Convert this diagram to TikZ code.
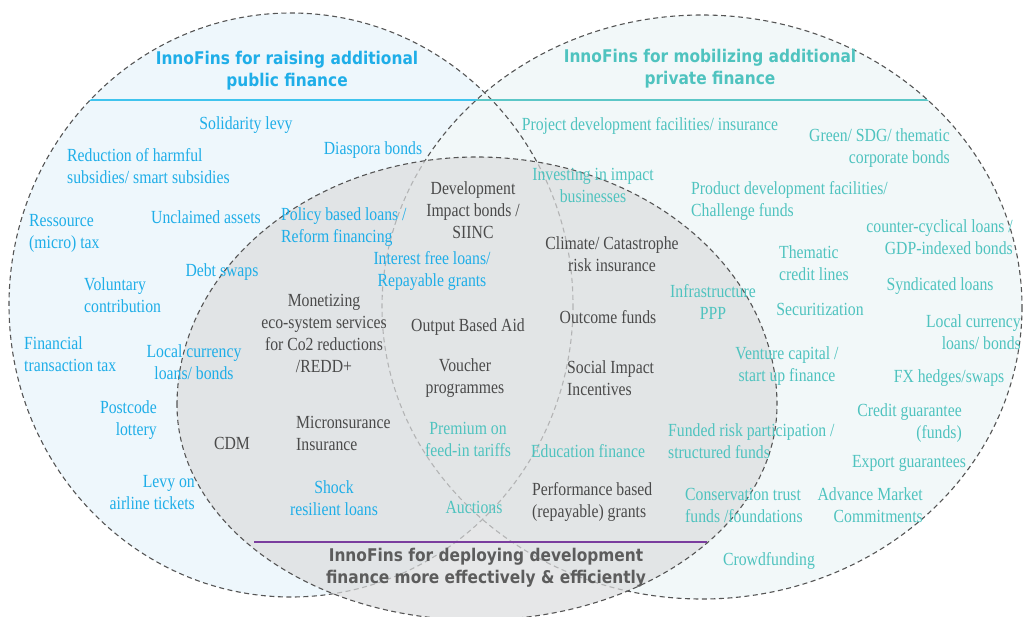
\documentclass[tikz,border=0pt]{standalone}
\usepackage{fontspec}
\setmainfont{Liberation Serif}[FakeStretch=0.85]
\newfontfamily\headfont{DejaVu Sans}[FakeStretch=0.88]
\usepackage{tikz}
\usetikzlibrary{positioning}

\definecolor{pubblue}{HTML}{1FAEE8}
\definecolor{publine}{HTML}{3FC4EE}
\definecolor{pubfill}{HTML}{EEF7FC}
\definecolor{privteal}{HTML}{4FC3BF}
\definecolor{privline}{HTML}{5CC7C7}
\definecolor{privfill}{HTML}{F2F8F9}
\definecolor{devgray}{HTML}{4A4A4A}
\definecolor{devfill}{HTML}{DCDDDE}
\definecolor{devpurple}{HTML}{7A3D9E}
\definecolor{ringgray}{HTML}{555555}

\tikzstyle{item}=[inner sep=0pt, font=\fontsize{18.5}{22}\selectfont]
\tikzstyle{pub}=[item, text=pubblue]
\tikzstyle{priv}=[item, text=privteal]
\tikzstyle{dev}=[item, text=devgray]
\tikzstyle{heading}=[inner sep=0pt, align=center, font=\headfont\bfseries\fontsize{17.5}{22}\selectfont]
\tikzstyle{ring}=[draw=ringgray, line width=1.1pt, dash pattern=on 5pt off 3.5pt]

\begin{document}
\begin{tikzpicture}[x=1pt, y=-1pt]
    \def\pubx{291};
    \def\puby{305};
    \def\privx{702};
    \def\privy{307};
    \def\devx{477};
    \def\devy{405};
    \def\devshape{(\devx-300,\devy) arc[start angle=180, end angle=360, x radius=300, y radius=248]
      arc[start angle=0, end angle=180, x radius=300, y radius=215] -- cycle};

    \useasboundingbox (0,0) rectangle (1025,616);

    % 公的資金と民間資金の円
    \fill[pubfill] (\pubx,\puby) ellipse [x radius=282, y radius=292];
    \fill[privfill] (\privx,\privy) ellipse [x radius=320, y radius=292];
    \draw[ring] (\pubx,\puby) ellipse [x radius=282, y radius=292];
    \draw[ring] (\privx,\privy) ellipse [x radius=320, y radius=292];

    % 見出しの下線
    \begin{scope}
      \clip (\pubx,\puby) ellipse [x radius=282, y radius=292];
      \draw[publine, line width=1.6pt] (0,100) -- (1025,100);
    \end{scope}
    \begin{scope}
      \clip (\privx,\privy) ellipse [x radius=320, y radius=292];
      \draw[privline, line width=1.6pt] (0,100) -- (1025,100);
    \end{scope}

    % 開発資金の領域
    \fill[devfill, fill opacity=0.7] \devshape;
    \draw[ring] \devshape;
    \draw[devpurple, line width=1.6pt] (254,542) -- (707,542);

    % 見出し
    \node[heading, text=pubblue] (pubhead) at (287,71) {InnoFins for raising additional\\public finance};
    \node[heading, text=privteal] (privhead) at (710,69) {InnoFins for mobilizing additional\\private finance};
    \node[heading, text=devgray!90] (devhead) at (486,568) {InnoFins for deploying development\\finance more effectively \& efficiently};

    % 公的資金
    \node[pub] (solidarity) at (246,125) {Solidarity levy};
    \node[pub, align=left, anchor=west] (harmful) at (67,166) {Reduction of harmful\\subsidies/ smart subsidies};
    \node[pub] (diaspora) at (373,150) {Diaspora bonds};
    \node[pub, align=left, anchor=west] (ressource) at (29,233) {Ressource\\(micro) tax};
    \node[pub] (unclaimed) at (206,217) {Unclaimed assets};
    \node[pub] (debtswaps) at (222,272) {Debt swaps};
    \node[pub, align=left, anchor=west] (voluntary) at (84,295) {Voluntary\\contribution};
    \node[pub, align=left, anchor=west] (fintax) at (24,354) {Financial\\transaction tax};
    \node[pub, align=center] (publocal) at (194,362) {Local currency\\loans/ bonds};
    \node[pub, align=right, anchor=east] (postcode) at (157,420) {Postcode\\lottery};
    \node[pub, align=right, anchor=east] (airline) at (195,493) {Levy on\\airline tickets};
    \node[pub, align=left, anchor=west] (policy) at (281,227) {Policy based loans /\\Reform financing};
    \node[pub, align=center] (interest) at (432,271) {Interest free loans/\\Repayable grants};
    \node[pub, align=center] (shock) at (334,498) {Shock\\resilient loans};

    % 開発資金
    \node[dev, align=center] (impactbonds) at (473,210) {Development\\Impact bonds /\\SIINC};
    \node[dev, align=center] (climate) at (612,254) {Climate/ Catastrophe\\risk insurance};
    \node[dev, align=center] (monetizing) at (324,333) {Monetizing\\eco-system services\\for Co2 reductions\\/REDD+};
    \node[dev] (outputaid) at (468,327) {Output Based Aid};
    \node[dev] (outcome) at (608,317) {Outcome funds};
    \node[dev, align=center] (voucher) at (465,378) {Voucher\\programmes};
    \node[dev, align=left, anchor=west] (social) at (567,378) {Social Impact\\Incentives};
    \node[dev, align=left, anchor=west] (microins) at (296,433) {Micronsurance\\Insurance};
    \node[dev] (cdm) at (232,443) {CDM};
    \node[dev, align=left, anchor=west] (performance) at (532,502) {Performance based\\(repayable) grants};

    % 民間資金
    \node[priv] (projectdev) at (650,126) {Project development facilities/ insurance};
    \node[priv, align=right, anchor=east] (green) at (950,148) {Green/ SDG/ thematic\\corporate bonds};
    \node[priv, align=center] (investing) at (593,185) {Investing in impact\\businesses};
    \node[priv, align=left, anchor=west] (productdev) at (691,201) {Product development facilities/\\Challenge funds};
    \node[priv, align=right, anchor=east] (countercyc) at (1013,237) {counter-cyclical loans /\\GDP-indexed bonds};
    \node[priv, align=left, anchor=west] (thematic) at (779,263) {Thematic\\credit lines};
    \node[priv] (syndicated) at (940,286) {Syndicated loans};
    \node[priv, align=center] (ppp) at (713,302) {Infrastructure\\PPP};
    \node[priv] (securit) at (820,309) {Securitization};
    \node[priv, align=right, anchor=east] (privlocal) at (1021,332) {Local currency\\loans/ bonds};
    \node[priv, align=center] (venture) at (787,366) {Venture capital /\\start up finance};
    \node[priv] (fxhedge) at (949,378) {FX hedges/swaps};
    \node[priv, align=right, anchor=east] (creditguar) at (962,423) {Credit guarantee\\(funds)};
    \node[priv, align=left, anchor=west] (fundedrisk) at (668,441) {Funded risk participation /\\structured funds};
    \node[priv] (education) at (588,451) {Education finance};
    \node[priv, align=center] (premium) at (468,439) {Premium on\\feed-in tariffs};
    \node[priv] (exportguar) at (909,463) {Export guarantees};
    \node[priv, align=left, anchor=west] (conservation) at (685,505) {Conservation trust\\funds /foundations};
    \node[priv, align=right, anchor=east] (advance) at (923,505) {Advance Market\\Commitments};
    \node[priv] (auctions) at (474,507) {Auctions};
    \node[priv] (crowd) at (769,561) {Crowdfunding};
\end{tikzpicture}
\end{document}
